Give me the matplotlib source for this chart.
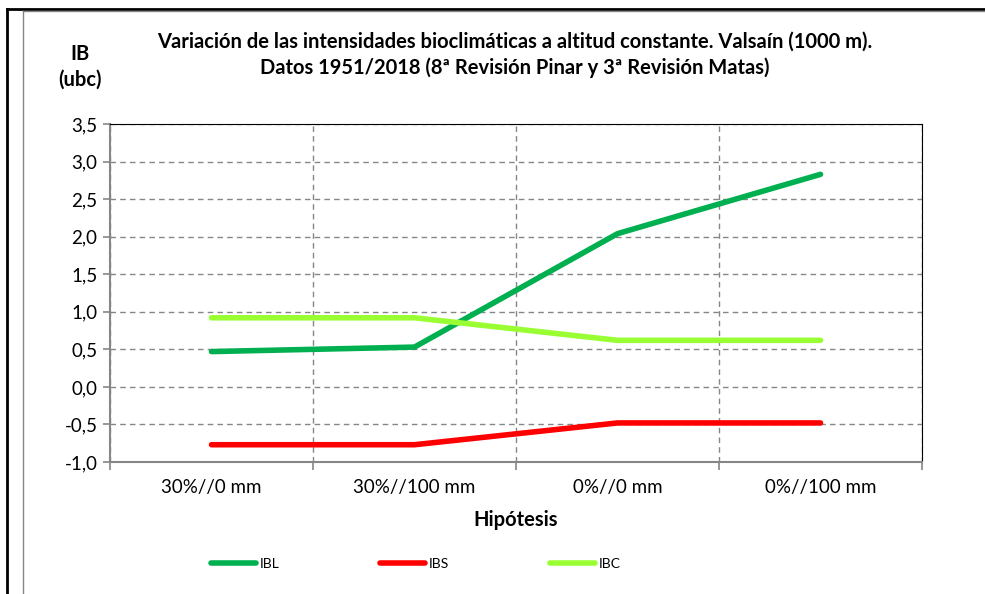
import matplotlib.pyplot as plt
from matplotlib.lines import Line2D
from matplotlib.ticker import FuncFormatter, MultipleLocator

plt.rcParams['font.family'] = ['Lato', 'DejaVu Sans']

hipotesis = ['30%//0 mm', '30%//100 mm', '0%//0 mm', '0%//100 mm']
ibl = [0.47, 0.53, 2.04, 2.83]
ibs = [-0.77, -0.77, -0.48, -0.48]
ibc = [0.92, 0.92, 0.62, 0.62]

fig = plt.figure(figsize=(9.85, 5.94), dpi=100)
ax = fig.add_axes([110/985, 1-462/594, 812/985, 338/594])

x = range(len(hipotesis))
ax.plot(x, ibl, color='#00B050', lw=4, solid_capstyle='round', label='IBL', zorder=3)
ax.plot(x, ibs, color='#FF0000', lw=4, solid_capstyle='round', label='IBS', zorder=3)
ax.plot(x, ibc, color='#99FF33', lw=4, solid_capstyle='round', label='IBC', zorder=3)

ax.set_xlim(-0.5, 3.5)
ax.set_ylim(-1.0, 3.5)
ax.yaxis.set_major_locator(MultipleLocator(0.5))
ax.yaxis.set_major_formatter(FuncFormatter(lambda v, p: f'{v:.1f}'.replace('.', ',')))
ax.set_xticks(list(x))
ax.set_xticklabels(hipotesis)
ax.set_xticks([-0.5, 0.5, 1.5, 2.5, 3.5], minor=True)
ax.tick_params(axis='x', which='major', length=0, pad=12, labelsize=13.5)
ax.tick_params(axis='x', which='minor', length=6, color='#868686', width=1.2)
ax.tick_params(axis='y', length=5, color='#868686', width=1.2, labelsize=13.5, pad=4)

ax.grid(axis='y', which='major', ls=(0, (4, 3)), color='#868686', lw=1)
ax.grid(axis='x', which='minor', ls=(0, (4, 3)), color='#868686', lw=1)
ax.set_axisbelow(True)

ax.spines['left'].set_color('#868686')
ax.spines['bottom'].set_color('#868686')
ax.spines['left'].set_linewidth(1.5)
ax.spines['bottom'].set_linewidth(1.5)
ax.spines['top'].set_color('black')
ax.spines['right'].set_color('black')

ax.set_xlabel('Hipótesis', fontsize=14.5, fontweight='bold', labelpad=10)

fig.text(515/985, 1-42/594, 'Variación de las intensidades bioclimáticas a altitud constante. Valsaín (1000 m).',
         ha='center', va='center', fontsize=14.5, fontweight='bold')
fig.text(515/985, 1-68/594, 'Datos 1951/2018 (8ª Revisión Pinar y 3ª Revisión Matas)',
         ha='center', va='center', fontsize=14.5, fontweight='bold')
fig.text(80/985, 1-67/594, 'IB\n(ubc)', ha='center', va='center', fontsize=14.5,
         fontweight='bold', linespacing=1.35)

# legend entries
legend_items = [('IBL', '#00B050', 211), ('IBS', '#FF0000', 380), ('IBC', '#99FF33', 550)]
for name, col, x0 in legend_items:
    fig.add_artist(Line2D([x0/985, (x0+45)/985], [1-563/594, 1-563/594], color=col, lw=4,
                          solid_capstyle='round', transform=fig.transFigure))
    fig.text((x0+49)/985, 1-564/594, name, ha='left', va='center', fontsize=10)

# frame
fig.add_artist(Line2D([7/985, 7/985], [0, 1-9/594], color='black', lw=2, transform=fig.transFigure))
fig.add_artist(Line2D([7/985, 1], [1-9/594, 1-9/594], color='black', lw=2, transform=fig.transFigure))
fig.add_artist(Line2D([22.5/985, 22.5/985], [0, 1-11/594], color='#868686', lw=1, transform=fig.transFigure))
fig.add_artist(Line2D([22.5/985, 1], [1-11/594, 1-11/594], color='#868686', lw=1, transform=fig.transFigure))

fig.savefig('out.png', dpi=100)
